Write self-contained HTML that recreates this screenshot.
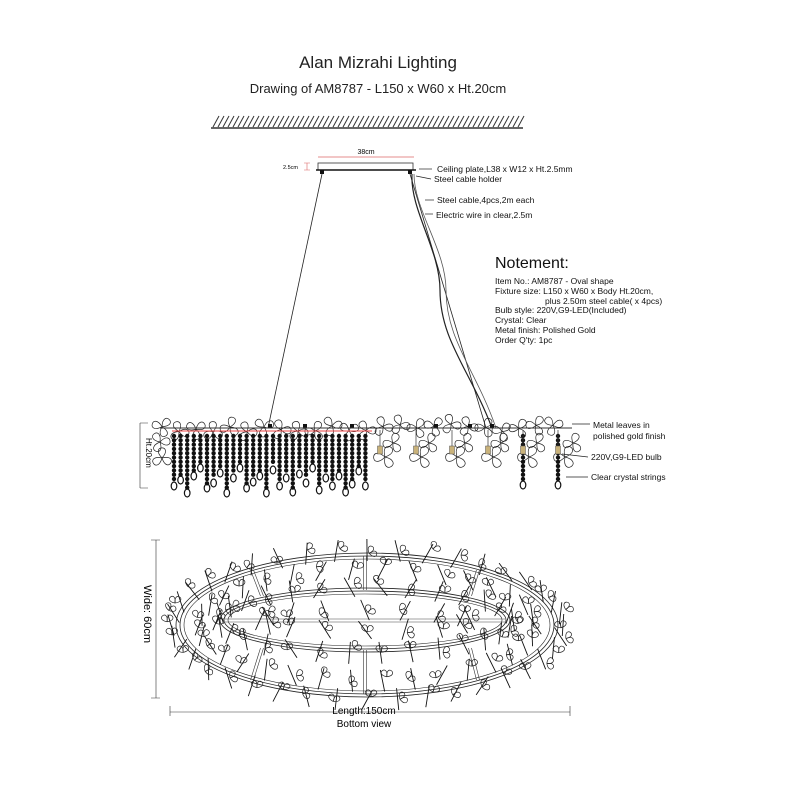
<!DOCTYPE html>
<html><head><meta charset="utf-8"><style>
html,body{margin:0;padding:0;background:#fff;}
svg{display:block;font-family:"Liberation Sans",sans-serif;}
</style></head><body>
<svg id="s" width="800" height="800" viewBox="0 0 800 800" xmlns="http://www.w3.org/2000/svg">
<rect width="800" height="800" fill="#fff"/>
<text x="378" y="68" font-size="17" text-anchor="middle" fill="#222">Alan Mizrahi Lighting</text>
<text x="378" y="93" font-size="13" text-anchor="middle" fill="#222">Drawing of AM8787 - L150 x W60 x Ht.20cm</text>
<g id="hatch" stroke="#333" stroke-width="1"></g>
<line x1="211" y1="128" x2="523" y2="128" stroke="#333" stroke-width="1.5"/>
<line x1="318" y1="157" x2="414" y2="157" stroke="#d66" stroke-width="0.7"/>
<text x="366" y="154" font-size="7" text-anchor="middle">38cm</text>
<rect x="318" y="163" width="95" height="7" fill="none" stroke="#333" stroke-width="0.8"/>
<line x1="316" y1="170" x2="416" y2="170" stroke="#111" stroke-width="1.5"/>
<text x="283" y="169" font-size="5.5">2.5cm</text>
<path d="M304 163 L310 163 M304 170 L310 170 M307 163 L307 170" stroke="#d66" stroke-width="0.6" fill="none"/>
<rect x="320" y="170" width="4" height="4" fill="#111"/><rect x="408" y="170" width="4" height="4" fill="#111"/>
<line x1="322" y1="174" x2="268" y2="428" stroke="#222" stroke-width="0.8"/>
<path d="M410 174 L486 428" stroke="#222" stroke-width="0.8" fill="none"/>
<path d="M412 174 C410 210,440 250,440 290 C440 340,470 370,492 428" stroke="#222" stroke-width="1.2" fill="none"/>
<path d="M414 174 C414 210,446 250,446 290 C446 340,476 370,496 428" stroke="#555" stroke-width="0.8" fill="none"/>
<g font-size="8.5" fill="#111">
<text x="437" y="172">Ceiling plate,L38 x W12 x Ht.2.5mm</text>
<text x="434" y="182">Steel cable holder</text>
<text x="437" y="203">Steel cable,4pcs,2m each</text>
<text x="436" y="218">Electric wire in clear,2.5m</text>
</g>
<g stroke="#222" stroke-width="0.7">
<line x1="419" y1="169" x2="432" y2="169"/>
<line x1="416" y1="176" x2="431" y2="179"/>
<line x1="425" y1="200" x2="434" y2="200"/>
<line x1="425" y1="214" x2="433" y2="214"/>
</g>
<text x="495" y="268" font-size="16" fill="#111">Notement:</text>
<g font-size="8.5" fill="#111">
<text x="495" y="284">Item No.: AM8787 - Oval shape</text>
<text x="495" y="294">Fixture size: L150 x W60 x Body Ht.20cm,</text>
<text x="545" y="304">plus 2.50m steel cable( x 4pcs)</text>
<text x="495" y="313">Bulb style: 220V,G9-LED(Included)</text>
<text x="495" y="323">Crystal: Clear</text>
<text x="495" y="333">Metal finish: Polished Gold</text>
<text x="495" y="343">Order Q'ty: 1pc</text>
</g>
<g id="side"></g>
<line x1="160" y1="428" x2="572" y2="428" stroke="#333" stroke-width="1"/>
<line x1="172" y1="431" x2="372" y2="431" stroke="#e44" stroke-width="1"/>
<path d="M140 423 L148 423 M140 488 L148 488 M140 423 L140 488" stroke="#333" stroke-width="0.6" fill="none"/>
<text transform="translate(146,438) rotate(90)" font-size="8">Ht.20cm</text>
<g font-size="8.5" fill="#111">
<text x="593" y="428">Metal leaves in</text>
<text x="593" y="439">polished gold finish</text>
<text x="591" y="460">220V,G9-LED bulb</text>
<text x="591" y="480">Clear crystal strings</text>
</g>
<g stroke="#222" stroke-width="0.7">
<line x1="572" y1="424" x2="590" y2="424"/>
<line x1="562" y1="454" x2="588" y2="457"/>
<line x1="566" y1="477" x2="588" y2="477"/>
</g>
<g id="bot"></g>
<path d="M151 540 L160 540 M151 698 L160 698 M156 540 L156 698" stroke="#333" stroke-width="0.6" fill="none"/>
<text transform="translate(144,585) rotate(90)" font-size="11">Wide: 60cm</text>
<path d="M170 712 L570 712 M170 706 L170 716 M570 706 L570 716" stroke="#333" stroke-width="0.6" fill="none"/>
<text x="364" y="714" font-size="10" text-anchor="middle">Length:150cm</text>
<text x="364" y="727" font-size="10" text-anchor="middle">Bottom view</text>
</svg>
<script>
var NS="http://www.w3.org/2000/svg";
function el(p,t,a){var e=document.createElementNS(NS,t);for(var k in a)e.setAttribute(k,a[k]);p.appendChild(e);return e;}
var h=document.getElementById('hatch');
for(var x=213;x<523;x+=5)el(h,'line',{x1:x,y1:127,x2:x+6,y2:116});
var s=document.getElementById('side');
function lobe(g,cx,cy,r,a){
  var k=r*2.3;
  var c1x=cx+Math.cos(a-0.75)*k,c1y=cy+Math.sin(a-0.75)*k,c2x=cx+Math.cos(a+0.75)*k,c2y=cy+Math.sin(a+0.75)*k;
  el(g,'path',{d:'M'+cx+' '+cy+' C'+c1x+' '+c1y+' '+c2x+' '+c2y+' '+cx+' '+cy,fill:'none',stroke:'#222','stroke-width':0.7});
}
function leaf(g,cx,cy,r,ang){for(var i=0;i<3;i++)lobe(g,cx,cy,r,ang+i*2.1);}
function pair(g,cx,cy,r,ang){lobe(g,cx,cy,r,ang);lobe(g,cx,cy,r,ang+1.3);}
var seed=3;function rnd(){seed=(seed*9301+49297)%233280;return seed/233280;}
for(var x=162;x<570;x+=17){leaf(s,x,428+(rnd()-0.5)*8,8,rnd()*6);}
for(var x=385;x<570;x+=36){leaf(s,x,457,9,1);leaf(s,x+8,443,8,3);}
leaf(s,160,442,8,2);leaf(s,162,458,8,0.5);
var lens=[488,482,495,478,470,490,485,475,495,480,470,490,484,478,495,472,488,480,494,476,485,470,492,480,488,478,494,486,473];
var i=0;
for(var x=174;x<=372;x+=6.6){var L=lens[i%lens.length];i++;
  for(var y=436;y<L-6;y+=4.3)el(s,'circle',{cx:x,cy:y,r:2.2,fill:'#111'});
  el(s,'ellipse',{cx:x,cy:L-2,rx:2.8,ry:4,fill:'none',stroke:'#111','stroke-width':1.2});
}
[523,558].forEach(function(x){for(var y=436;y<480;y+=4.3)el(s,'circle',{cx:x,cy:y,r:2.2,fill:'#111'});el(s,'ellipse',{cx:x,cy:485,rx:2.8,ry:4,fill:'none',stroke:'#111','stroke-width':1.2});});
[380,416,452,488,523,558].forEach(function(x){el(s,'rect',{x:x-2.5,y:446,width:5,height:8,fill:'#c9b27a',stroke:'#555','stroke-width':0.5});el(s,'line',{x1:x,y1:430,x2:x,y2:446,stroke:'#333','stroke-width':0.7});});
[270,305,352,436,470,492].forEach(function(x){el(s,'rect',{x:x-2,y:424,width:4,height:4,fill:'#111'});});
var b=document.getElementById('bot');
function oval(cx,cy,rx,ry,w){el(b,'ellipse',{cx:cx,cy:cy,rx:rx,ry:ry,fill:'none',stroke:'#222','stroke-width':w});}
oval(367,625,191,72,0.8);oval(367,625,187,69,0.8);oval(367,625,183,66,0.6);
oval(365,620,145,32,0.8);oval(365,620,141,29,0.8);oval(365,620,137,26,0.6);
el(b,'line',{x1:225,y1:619,x2:505,y2:619,stroke:'#444','stroke-width':0.6});
el(b,'line',{x1:225,y1:622,x2:505,y2:622,stroke:'#444','stroke-width':0.6});
[[365,556,365,590],[365,650,365,694],[252,570,262,596],[252,680,262,648],[478,570,470,596],[478,680,470,648]].forEach(function(p){
 el(b,'line',{x1:p[0]-1.5,y1:p[1],x2:p[2]-1.5,y2:p[3],stroke:'#333','stroke-width':0.6});
 el(b,'line',{x1:p[0]+1.5,y1:p[1],x2:p[2]+1.5,y2:p[3],stroke:'#333','stroke-width':0.6});});
function ring(cx,cy,rx,ry,n){for(var k=0;k<n;k++){var t=k/n*Math.PI*2;var x=cx+Math.cos(t)*rx,y=cy+Math.sin(t)*ry;
  var a=0.9+rnd()*1.3;el(b,'line',{x1:x-Math.cos(a)*11,y1:y-Math.sin(a)*11,x2:x+Math.cos(a)*11,y2:y+Math.sin(a)*11,stroke:'#111','stroke-width':0.9});
  pair(b,x+(rnd()-0.5)*12,y+(rnd()-0.5)*10,6,-2.4+rnd()*1.8);}}
ring(367,625,196,75,40);ring(367,625,168,56,34);ring(365,620,148,33,30);ring(365,620,105,10,16);
</script>
</body></html>
